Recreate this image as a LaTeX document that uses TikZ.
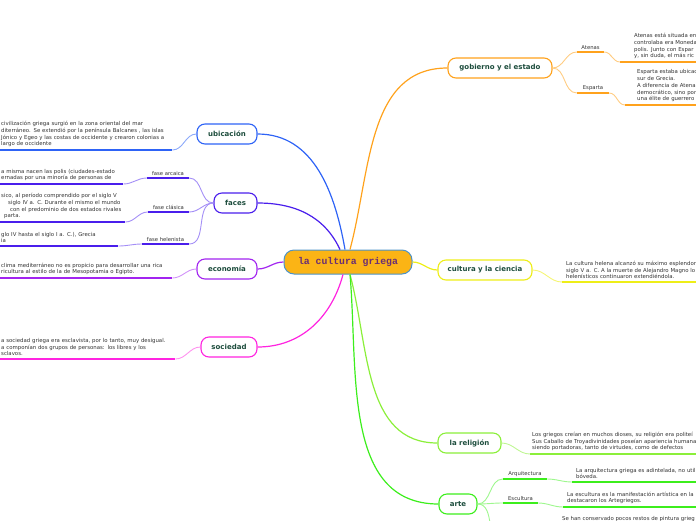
\documentclass[tikz,border=0pt]{standalone}
\usepackage{fontspec}
\setmainfont{DejaVu Sans}
\newfontfamily\rootff{Liberation Mono}
\newcommand\leaffont{\fontsize{5.4}{6.8}\selectfont}
\newcommand\subfont{\fontsize{5.3}{6}\selectfont}
\newcommand\topicfont{\bfseries\fontsize{7}{8}\selectfont}
\newcommand\rootfont{\rootff\bfseries\fontsize{9.8}{11}\selectfont}
\definecolor{rootf}{HTML}{FBB415}
\definecolor{rootb}{HTML}{4C93C9}
\definecolor{roottxt}{HTML}{6A2E74}
\definecolor{topictxt}{HTML}{1D4D3D}
\definecolor{leaftxt}{HTML}{333333}
\definecolor{ubiC}{HTML}{2E63F6}
\definecolor{facC}{HTML}{4A1EEC}
\definecolor{ecoC}{HTML}{A224F0}
\definecolor{socC}{HTML}{FF24E0}
\definecolor{gobC}{HTML}{FFA21C}
\definecolor{culC}{HTML}{EEEE18}
\definecolor{relC}{HTML}{8BEF3A}
\definecolor{artC}{HTML}{3CEE1C}
\begin{document}
\begin{tikzpicture}[x=1pt,y=-1pt,
  topic/.style={draw,fill=white,rounded corners=8pt,line width=1.1pt,minimum height=20pt,inner sep=0pt,font=\topicfont,text=topictxt},
  leaf/.style={font=\leaffont,text=leaftxt,align=left,inner ysep=2.8pt,anchor=south west},
  sub/.style={font=\subfont,text=leaftxt,inner xsep=0pt,inner ysep=2.6pt,anchor=south},
  link/.style={line width=1.2pt},
  twig/.style={line width=0.9pt},
  under/.style={line width=1.8pt}]
\useasboundingbox (0,0) rectangle (696,520);
\node[draw=rootb,fill=rootf,line width=1pt,rounded corners=10pt,minimum width=128pt,minimum height=24pt,font=\rootfont,text=roottxt] (root) at (348,262) {la cultura griega};
% main topics
\node[topic,draw=ubiC,minimum width=60pt] (ubi) at (227,134) {ubicación};
\node[topic,draw=facC,minimum width=43pt] (fac) at (235.5,203) {faces};
\node[topic,draw=ecoC,minimum width=60pt] (eco) at (227,269) {economía};
\node[topic,draw=socC,minimum width=56pt] (soc) at (229,347) {sociedad};
\node[topic,draw=gobC,minimum width=104pt] (gob) at (500,68) {gobierno y el estado};
\node[topic,draw=culC,minimum width=94pt] (cul) at (485,270) {cultura y la ciencia};
\node[topic,draw=relC,minimum width=63pt] (rel) at (469.5,443) {la religión};
\node[topic,draw=artC,minimum width=38pt] (art) at (458,504) {arte};
\draw[link,ubiC] ([xshift=-3pt]root.north) to[out=100,in=0] (ubi.east);
\draw[link,facC] ([xshift=-8pt]root.north) to[out=115,in=0] (fac.east);
\draw[link,ecoC] (root.west) to[out=180,in=0] (eco.east);
\draw[link,socC] ([xshift=-5pt]root.south) to[out=-105,in=0] (soc.east);
\draw[link,gobC] ([xshift=2pt]root.north) to[out=75,in=180] (gob.west);
\draw[link,culC] (root.east) to[out=0,in=180] (cul.west);
\draw[link,relC] ([xshift=2pt]root.south) to[out=-75,in=180] (rel.west);
\draw[link,artC] ([xshift=2pt]root.south) to[out=-85,in=180] (art.west);
% ubicacion
\node[leaf,text width=170pt,inner xsep=1pt] (ubil) at (0,150) {civilización griega surgió en la zona oriental del mar\\diterráneo. Se extendió por la península Balcanes , las islas\\Jónico y Egeo y las costas de occidente y crearon colonias a\\largo de occidente};
\draw[under,ubiC] (ubil.south west) -- (ubil.south east);
\draw[twig,ubiC!55] (ubil.south east) to[out=0,in=180] (ubi.west);
% faces
\node[sub,minimum width=42pt] (arc) at (168,178) {fase arcaica};
\node[sub,minimum width=41pt] (cla) at (168.5,212) {fase clásica};
\node[sub,minimum width=47pt] (hel) at (165.5,244) {fase helenista};
\foreach \s in {arc,cla,hel} {
  \draw[under,facC] (\s.south west) -- (\s.south east);
  \draw[twig,facC!50] (\s.south east) to[out=0,in=180] (fac.west);
}
\node[leaf,text width=121pt,inner xsep=1pt] (arcl) at (0,184) {a misma nacen las polis (ciudades-estado\\ernadas por una minoría de personas de};
\node[leaf,text width=123pt,inner xsep=1pt] (clal) at (0,222) {sico, al período comprendido por el siglo V\\\hspace*{7pt}siglo IV a. C. Durante el mismo el mundo\\\hspace*{9pt}con el predominio de dos estados rivales\\\hspace*{3pt}parta.};
\node[leaf,text width=116pt,inner xsep=1pt] (hell) at (0,246) {glo IV hasta el siglo I a. C.), Grecia\\ia};
\foreach \s in {arc,cla,hel} {
  \draw[under,facC] (\s l.south west) -- (\s l.south east);
  \draw[twig,facC!50] (\s.south west) to[out=180,in=0] (\s l.south east);
}
% economia, sociedad
\node[leaf,text width=170pt,inner xsep=1pt] (ecol) at (0,278) {clima mediterráneo no es propicio para desarrollar una rica\\ricultura al estilo de la de Mesopotamia o Egipto.};
\draw[under,ecoC] (ecol.south west) -- (ecol.south east);
\draw[twig,ecoC!50] (ecol.south east) to[out=0,in=180] (eco.west);
\node[leaf,text width=173pt,inner xsep=1pt] (socl) at (0,359) {a sociedad griega era esclavista, por lo tanto, muy desigual.\\a componían dos grupos de personas: los libres y los\\sclavos.};
\draw[under,socC] (socl.south west) -- (socl.south east);
\draw[twig,socC!50] (socl.south east) to[out=0,in=180] (soc.west);
% gobierno
\node[sub,minimum width=27pt] (ate) at (590.5,52) {Atenas};
\node[sub,minimum width=32pt] (esp) at (593,93) {Esparta};
\node[leaf,text width=200pt,inner xsep=14pt] (atel) at (620,62) {Atenas está situada en\\controlaba era Moneda\\polis. Junto con Espar\\y, sin duda, el más ric};
\node[leaf,text width=200pt,inner xsep=12pt] (espl) at (625,105) {Esparta estaba ubicad\\sur de Grecia.\\A diferencia de Atena\\democrático, sino por\\una élite de guerrero};
\foreach \s in {ate,esp} {
  \draw[under,gobC] (\s.south west) -- (\s.south east);
  \draw[twig,gobC!55] (gob.east) to[out=0,in=180] (\s.south west);
  \draw[under,gobC] (\s l.south west) -- (\s l.south east);
  \draw[twig,gobC!55] (\s.south east) to[out=0,in=180] (\s l.south west);
}
% cultura, religion
\node[leaf,text width=200pt,inner xsep=4pt] (cull) at (562,282) {La cultura helena alcanzó su máximo esplendor\\siglo V a. C. A la muerte de Alejandro Magno lo\\helenísticos continuaron extendiéndola.};
\draw[under,culC] (cull.south west) -- (cull.south east);
\draw[twig,culC!60] (cul.east) to[out=0,in=180] (cull.south west);
\node[leaf,text width=200pt,inner xsep=2pt] (rell) at (530,454) {Los griegos creían en muchos dioses, su religión era politeí\\Sus Caballo de Troyadivinidades poseían apariencia humana\\siendo portadoras, tanto de virtudes, como de defectos};
\draw[under,relC] (rell.south west) -- (rell.south east);
\draw[twig,relC!55] (rel.east) to[out=0,in=180] (rell.south west);
% arte
\node[sub,minimum width=44pt] (arq) at (525,479) {Arquitectura};
\node[sub,minimum width=35pt] (esc) at (520.5,503) {Escultura};
\node[leaf,text width=200pt,inner xsep=4pt] (arql) at (572,482) {La arquitectura griega es adintelada, no util\\bóveda.};
\node[leaf,text width=200pt,inner xsep=4pt] (escl) at (563,507) {La escultura es la manifestación artística en la\\destacaron los Artegriegos.};
\foreach \s in {arq,esc} {
  \draw[under,artC] (\s.south west) -- (\s.south east);
  \draw[twig,artC!50] (art.east) to[out=0,in=180] (\s.south west);
  \draw[under,artC] (\s l.south west) -- (\s l.south east);
  \draw[twig,artC!50] (\s.south east) to[out=0,in=180] (\s l.south west);
}
\coordinate (pin) at (503,545);
\draw[twig,artC!50] (art.east) to[out=0,in=180] (pin);
\node[leaf,anchor=north west,inner sep=0pt] (pinl) at (562,516) {Se han conservado pocos restos de pintura grieg};
\end{tikzpicture}
\end{document}
